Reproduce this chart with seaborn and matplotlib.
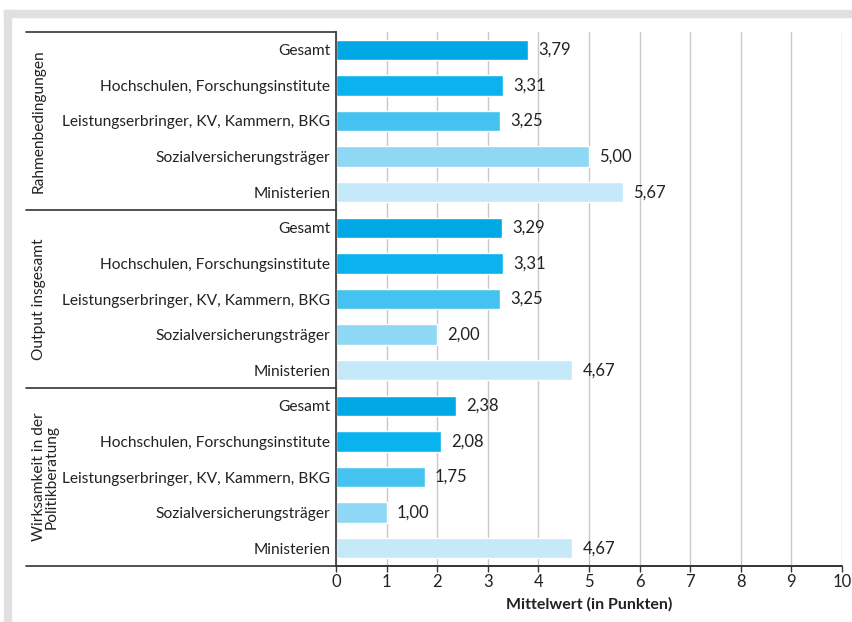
import matplotlib
matplotlib.use("Agg")
import matplotlib.pyplot as plt
import matplotlib.transforms as mtransforms
from matplotlib.patches import Rectangle
import seaborn as sns
import pandas as pd

groups = ["Rahmenbedingungen", "Output insgesamt", "Wirksamkeit in der\nPolitikberatung"]
categories = ["Gesamt", "Hochschulen, Forschungsinstitute",
              "Leistungserbringer, KV, Kammern, BKG",
              "Sozialversicherungsträger", "Ministerien"]
values_rahmen = [3.79, 3.31, 3.25, 5.00, 5.67]
values_output = [3.29, 3.31, 3.25, 2.00, 4.67]
values_wirk = [2.38, 2.08, 1.75, 1.00, 4.67]
colors = ["#00a9e6", "#0ab3ed", "#45c3f0", "#8ed8f5", "#c6e9fa"]
x_ticks = list(range(0, 11))
x_label = "Mittelwert (in Punkten)"

rows = []
for g, vals in zip(groups, [values_rahmen, values_output, values_wirk]):
    for c, v in zip(categories, vals):
        rows.append({"group": g, "cat": c, "value": v, "row": f"{g}|{c}"})
df = pd.DataFrame(rows)

sns.set_theme(style="white")
plt.rcParams["font.family"] = ["Lato", "DejaVu Sans"]
FS = 11.2
TXT = "#222222"

fig = plt.figure(figsize=(8.53, 6.22), dpi=100)
W, H = 853, 622
ax = fig.add_axes([336 / W, 1 - 566 / H, (842 - 336) / W, (566 - 32) / H])

# gray frame
fig.patches.append(Rectangle((4 / W, 1 - 17 / H), 1 - 4 / W, 7 / H,
                             transform=fig.transFigure, color="#e0e0e0", zorder=0))
fig.patches.append(Rectangle((4 / W, 0), 7 / W, 1 - 10 / H,
                             transform=fig.transFigure, color="#e0e0e0", zorder=0))

sns.barplot(data=df, y="row", x="value", hue="cat", palette=colors,
            hue_order=categories, dodge=False, width=0.57, legend=False,
            ax=ax, orient="h", saturation=1)

ax.set_xlim(0, 10)
ax.set_ylim(len(df) - 0.5, -0.5)
ax.set_xticks(x_ticks)
ax.set_xticklabels([str(t) for t in x_ticks], fontsize=12, color=TXT)
ax.set_yticks(range(len(df)))
ax.set_yticklabels(df["cat"].tolist(), fontsize=FS, color=TXT)
ax.set_ylabel("")
ax.set_xlabel(x_label, fontsize=11.5, fontweight="bold", color=TXT, labelpad=5)
ax.tick_params(axis="y", length=0, pad=4)
ax.tick_params(axis="x", length=4, width=1, color="#333333", direction="out", pad=2, bottom=True)

ax.grid(axis="x", color="#c8c8c8", linewidth=1)
ax.set_axisbelow(True)
for s in ["top", "right"]:
    ax.spines[s].set_visible(False)
for s in ["left", "bottom"]:
    ax.spines[s].set_color("#333333")
    ax.spines[s].set_linewidth(1.2)

# value labels
for i, v in enumerate(df["value"]):
    ax.text(v + 0.2, i, f"{v:.2f}".replace(".", ","), va="center", ha="left",
            fontsize=12, color=TXT)

# group separator lines and labels
trans = mtransforms.blended_transform_factory(ax.transAxes, ax.transData)
left_x = (26 - 336) / (842 - 336)
n = len(categories)
for k in range(len(groups) + 1):
    yb = k * n - 0.5
    xr = 1.0 if k == len(groups) else 0.0
    ax.plot([left_x, xr], [yb, yb], transform=trans, color="#333333",
            linewidth=1.2, clip_on=False)
for k, g in enumerate(groups):
    yc = k * n + (n - 1) / 2
    xpos = (39 - 336) / (842 - 336) if "\n" not in g else (45 - 336) / (842 - 336)
    ax.text(xpos, yc, g, transform=trans, rotation=90, ha="center", va="center",
            fontsize=FS, color=TXT, linespacing=0.85)

fig.savefig("out.png", dpi=100)
